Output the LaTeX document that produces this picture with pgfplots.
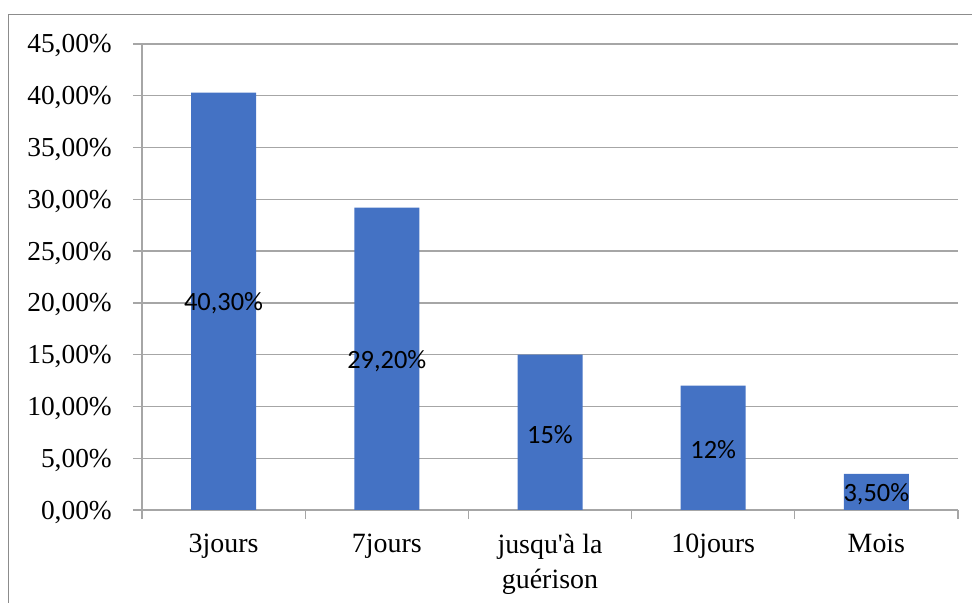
\documentclass[border=0pt]{standalone}
\usepackage{fontspec}
\setmainfont{Liberation Serif}
\newfontfamily\labelfont{Carlito}
\usepackage{pgfplots}
\pgfplotsset{compat=1.18}
\definecolor{barblue}{HTML}{4472C4}
\definecolor{gridgray}{HTML}{A6A6A6}
\definecolor{framegray}{HTML}{8C8C8C}

\begin{document}
\begin{tikzpicture}
\useasboundingbox (0bp,0bp) rectangle (972bp,603bp);
% outer chart frame
\draw[framegray, line width=1.2bp] (8.5bp,0bp) -- (8.5bp,588.5bp) -- (972bp,588.5bp);
\begin{axis}[
  at={(142bp,93bp)}, anchor=south west,
  scale only axis, width=816bp, height=466bp,
  xmin=-0.5, xmax=4.5, ymin=0, ymax=45,
  axis lines*=left,
  axis line style={gridgray, line width=1.3bp},
  ymajorgrids,
  major grid style={gridgray, line width=1.3bp},
  tick align=outside,
  major tick length=9bp,
  tick style={gridgray, line width=1.3bp},
  ytick={0,5,...,45},
  yticklabels={{0,00\%},{5,00\%},{10,00\%},{15,00\%},{20,00\%},{25,00\%},{30,00\%},{35,00\%},{40,00\%},{45,00\%}},
  yticklabel style={font=\fontsize{27.5}{32}\selectfont, anchor=base east, inner sep=0pt, xshift=-21bp, yshift=-9bp},
  xtick={-0.5,0.5,...,4.5},
  xticklabels={},
  extra x ticks={0,1,2,3,4},
  extra x tick labels={3jours,7jours,{jusqu\textquotesingle à la\\guérison},10jours,Mois},
  extra x tick style={major tick length=0pt,
    xticklabel style={font=\fontsize{28}{35}\selectfont, align=center, anchor=north, inner sep=0pt, yshift=-24bp}},
]
\addplot[ybar, bar width=65bp, fill=barblue, draw=none,
  point meta=explicit symbolic,
  nodes near coords,
  visualization depends on={rawy/2 \as \halfy},
  nodes near coords style={font=\labelfont\fontsize{26.5}{30}\selectfont, text=black, anchor=center,
    yshift=-2bp, shift={(axis direction cs:0,-\halfy)}}]
coordinates {(0,40.3) [40,30\%] (1,29.2) [29,20\%] (2,15) [15\%] (3,12) [12\%] (4,3.5) [3,50\%]};
\end{axis}
\end{tikzpicture}
\end{document}
